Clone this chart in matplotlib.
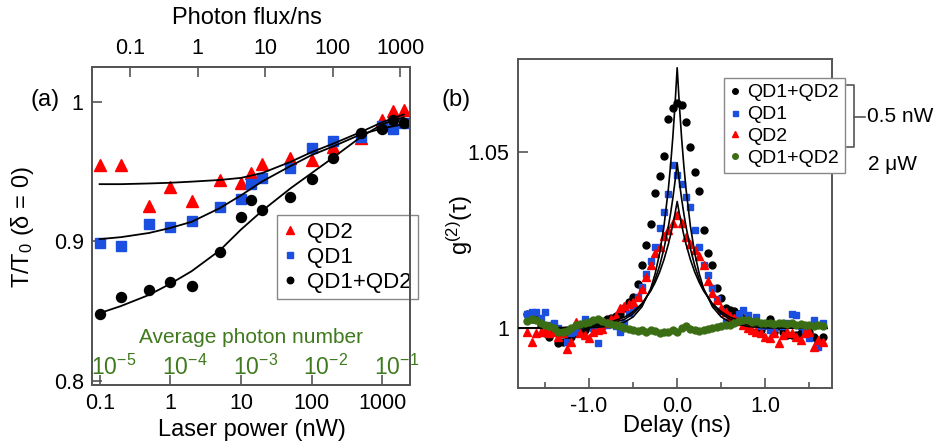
import matplotlib.pyplot as plt
from matplotlib.lines import Line2D

plt.rcParams['font.family'] = ['Liberation Sans', 'DejaVu Sans']
plt.rcParams['mathtext.fontset'] = 'custom'
plt.rcParams['mathtext.rm'] = 'Liberation Sans'
plt.rcParams['mathtext.it'] = 'Liberation Sans:italic'
plt.rcParams['mathtext.default'] = 'regular'

RED = '#ff0000'
BLUE = '#1a4fe0'
GREEN = '#3b6e14'
GREEN_TXT = '#3f7a1e'
AXC = '#555555'

# ---------------- panel (a): transmission vs laser power ----------------
power = [0.1, 0.2, 0.5, 1, 2, 5, 10, 14, 20, 50, 100, 200, 500, 1000, 1400, 2000]
trans_qd2 = [0.9547, 0.9547, 0.925, 0.9393, 0.9291, 0.944, 0.9417, 0.9488,
             0.9554, 0.960, 0.9583, 0.9673, 0.9738, 0.9873, 0.9934, 0.9944]
trans_qd1 = [0.8989, 0.897, 0.9127, 0.9103, 0.9146, 0.9243, 0.9303, 0.9412,
             0.9452, 0.9528, 0.9666, 0.9718, 0.9745, 0.983, 0.9804, 0.9845]
trans_both = [0.8478, 0.860, 0.8651, 0.871, 0.8682, 0.8922, 0.9173, 0.9294,
              0.9223, 0.9321, 0.9444, 0.9594, 0.9779, 0.9807, 0.9868, 0.9845]

fit_power = [0.1, 0.2, 0.5, 1, 2, 5, 10, 20, 50, 100, 200, 500, 1000, 2000]
fit_qd2 = [0.941, 0.941, 0.9415, 0.942, 0.9428, 0.944, 0.9455, 0.949,
           0.957, 0.964, 0.970, 0.9785, 0.9855, 0.991]
fit_qd1 = [0.9016, 0.903, 0.906, 0.9096, 0.914, 0.9238, 0.933, 0.943,
           0.954, 0.9619, 0.968, 0.9768, 0.981, 0.984]
fit_both = [0.8485, 0.8536, 0.8616, 0.8696, 0.8786, 0.8935, 0.9085, 0.922,
            0.938, 0.949, 0.960, 0.975, 0.984, 0.989]

power_ticks = [0.1, 1, 10, 100, 1000]
flux_ticks = [0.1, 1, 10, 100, 1000]
photon_number = [1e-5, 1e-4, 1e-3, 1e-2, 1e-1]
photon_labels = ['$10^{-5}$', '$10^{-4}$', '$10^{-3}$', '$10^{-2}$', '$10^{-1}$']
power_per_photon = 1e4   # nW corresponding to an average photon number of 1

# ---------------- panel (b): g2 vs delay ----------------
delay = [-1.70, -1.65, -1.60, -1.55, -1.50, -1.45, -1.40, -1.35, -1.30, -1.25,
         -1.20, -1.15, -1.10, -1.05, -1.00, -0.95, -0.90, -0.85, -0.80, -0.75,
         -0.70, -0.65, -0.60, -0.55, -0.50, -0.45, -0.40, -0.35, -0.30, -0.25,
         -0.20, -0.15, -0.10, -0.05, 0.00, 0.05, 0.10, 0.15, 0.20, 0.25,
         0.30, 0.35, 0.40, 0.45, 0.50, 0.55, 0.60, 0.65, 0.70, 0.75,
         0.80, 0.85, 0.90, 0.95, 1.00, 1.05, 1.10, 1.15, 1.20, 1.25,
         1.30, 1.35, 1.40, 1.45, 1.50, 1.55, 1.60, 1.65]
g2_both = [1.0040, 1.0025, 1.0030, 1.0010, 0.9985, 0.9975, 0.9990, 0.9957, 0.9960, 0.9980,
           0.9975, 0.9985, 0.9990, 0.9995, 1.0005, 1.0010, 1.0005, 1.0015, 1.0025, 1.0030,
           1.0035, 1.0041, 1.0058, 1.0075, 1.0090, 1.0125, 1.0180, 1.0235, 1.0295, 1.0385,
           1.0432, 1.0490, 1.0595, 1.0625, 1.0640, 1.0634, 1.0585, 1.0515, 1.0445, 1.0390,
           1.0280, 1.0215, 1.0180, 1.0115, 1.0085, 1.0057, 1.0052, 1.0050, 1.0040, 1.0030,
           1.0020, 1.0014, 0.9988, 0.9995, 1.0010, 1.0025, 0.9990, 1.0005, 0.9990, 0.9982,
           0.9980, 0.9980, 0.9985, 1.0000, 0.9990, 0.9975, 0.9960, 0.9975]
g2_qd1 = [1.0040, 1.0045, 1.0047, 1.0030, 1.0047, 1.0010, 1.0014, 1.0000, 0.9990, 0.9962,
          0.9985, 0.9990, 1.0010, 1.0026, 1.0015, 1.0000, 0.9957, 1.0005, 1.0010, 1.0015,
          1.0005, 0.9990, 1.0014, 1.0043, 1.0061, 1.0090, 1.0118, 1.0155, 1.0190, 1.0230,
          1.0285, 1.0330, 1.0380, 1.0465, 1.0435, 1.0410, 1.0374, 1.0345, 1.0280, 1.0230,
          1.0180, 1.0150, 1.0115, 1.0082, 1.0050, 1.0019, 1.0030, 1.0025, 1.0040, 1.0052,
          1.0038, 1.0020, 1.0033, 1.0005, 1.0010, 0.9995, 1.0000, 1.0010, 1.0005, 1.0015,
          1.0040, 1.0038, 1.0005, 0.9995, 0.9972, 1.0022, 0.9948, 1.0014]
g2_qd2 = [0.9988, 0.9960, 0.9985, 0.9990, 0.9995, 0.9985, 0.9990, 0.9975, 0.9985, 0.9940,
          0.9962, 1.0018, 0.9985, 0.9980, 0.9972, 0.9990, 0.9995, 0.9998, 1.0015, 1.0025,
          1.0035, 1.0057, 1.0062, 1.0068, 1.0075, 1.0088, 1.0112, 1.0145, 1.0180, 1.0215,
          1.0232, 1.0262, 1.0280, 1.0300, 1.0322, 1.0300, 1.0260, 1.0240, 1.0222, 1.0205,
          1.0180, 1.0135, 1.0100, 1.0080, 1.0057, 1.0045, 1.0035, 1.0028, 1.0020, 1.0010,
          1.0000, 0.9995, 0.9990, 0.9985, 0.9975, 0.9972, 0.9985, 0.9957, 0.9980, 0.9990,
          0.9985, 0.9975, 0.9967, 0.9985, 0.9990, 0.9948, 0.9967, 0.9962]
g2_high = [1.0020, 1.0025, 1.0022, 1.0015, 1.0010, 1.0005, 1.0000, 0.9990, 0.9988, 0.9992,
           1.0000, 1.0008, 1.0012, 1.0015, 1.0018, 1.0022, 1.0025, 1.0020, 1.0015, 1.0012,
           1.0008, 1.0005, 1.0000, 0.9998, 0.9995, 0.9992, 0.9995, 0.9990, 0.9995, 0.9992,
           0.9985, 0.9990, 0.9988, 0.9995, 0.9990, 1.0002, 1.0005, 0.9998, 0.9995, 0.9992,
           0.9995, 0.9998, 1.0000, 1.0003, 1.0005, 1.0010, 1.0008, 1.0015, 1.0020, 1.0024,
           1.0022, 1.0018, 1.0020, 1.0016, 1.0014, 1.0015, 1.0012, 1.0016, 1.0014, 1.0012,
           1.0014, 1.0010, 1.0012, 1.0008, 1.0010, 1.0006, 1.0008, 1.0005]

fit_delay = [-1.80, -1.30, -1.00, -0.80, -0.60, -0.50, -0.40, -0.30, -0.25, -0.20,
             -0.15, -0.10, -0.075, -0.05, -0.025, 0.00, 0.025, 0.05, 0.075, 0.10,
             0.15, 0.20, 0.25, 0.30, 0.40, 0.50, 0.60, 0.80, 1.00, 1.30, 1.70]
fit_g2_both = [1.0000, 1.0000, 1.0001, 1.0005, 1.0017, 1.0032, 1.0061, 1.0113, 1.0155, 1.0212,
               1.0290, 1.0396, 1.0463, 1.0541, 1.0633, 1.0740, 1.0633, 1.0541, 1.0463, 1.0396,
               1.0290, 1.0212, 1.0155, 1.0113, 1.0061, 1.0032, 1.0017, 1.0005, 1.0001, 1.0000, 1.0000]
fit_g2_qd1 = [1.0000, 1.0001, 1.0004, 1.0010, 1.0025, 1.0041, 1.0067, 1.0109, 1.0139, 1.0177,
              1.0226, 1.0289, 1.0326, 1.0368, 1.0416, 1.0470, 1.0416, 1.0368, 1.0326, 1.0289,
              1.0226, 1.0177, 1.0139, 1.0109, 1.0067, 1.0041, 1.0025, 1.0010, 1.0004, 1.0001, 1.0000]
fit_g2_qd2 = [1.0000, 1.0002, 1.0006, 1.0014, 1.0031, 1.0047, 1.0070, 1.0106, 1.0130, 1.0159,
              1.0195, 1.0239, 1.0265, 1.0294, 1.0325, 1.0360, 1.0325, 1.0294, 1.0265, 1.0239,
              1.0195, 1.0159, 1.0130, 1.0106, 1.0070, 1.0047, 1.0031, 1.0014, 1.0006, 1.0002, 1.0000]

W, H = 938, 448
fig = plt.figure(figsize=(W / 100, H / 100), dpi=100)


def style_axes(ax):
    for s in ax.spines.values():
        s.set_color(AXC)
        s.set_linewidth(1.4)
    ax.tick_params(which='major', direction='in', length=7, width=1.2,
                   color=AXC, labelsize=15.5, pad=6)
    ax.tick_params(which='minor', direction='in', length=4, width=1.2, color=AXC)


# ---- panel (a)
axa = fig.add_axes([92 / W, 63 / H, 318 / W, 318 / H])
style_axes(axa)
axa.set_xscale('log')
axa.set_xlim(0.078, 2450)
axa.set_ylim(0.797, 1.025)
axa.plot(fit_power, fit_qd2, color='black', lw=1.3, zorder=3)
axa.plot(fit_power, fit_qd1, color='black', lw=1.3, zorder=3)
axa.plot(fit_power, fit_both, color='black', lw=1.3, zorder=3)
axa.plot(power, trans_qd2, ls='none', marker='^', ms=8, color=RED, mec=RED, label='QD2', zorder=2)
axa.plot(power, trans_qd1, ls='none', marker='s', ms=7, color=BLUE, mec=BLUE, label='QD1', zorder=2)
axa.plot(power, trans_both, ls='none', marker='o', ms=7.2, color='black', label='QD1+QD2', zorder=2)
axa.set_xticks(power_ticks)
axa.set_xticklabels(['0.1', '1', '10', '100', '1000'])
axa.xaxis.set_minor_locator(plt.NullLocator())
axa.set_yticks([0.8, 0.9, 1.0])
axa.set_yticklabels(['0.8', '0.9', '1'])

axt = axa.twiny()
style_axes(axt)
axt.set_xscale('log')
axt.set_xlim(0.0272, 1396)
axt.set_xticks(flux_ticks)
axt.set_xticklabels(['0.1', '1', '10', '100', '1000'])
axt.xaxis.set_minor_locator(plt.NullLocator())

# average photon number scale (inside the plot)
for n, lab in zip(photon_number, photon_labels):
    axa.annotate(lab, xy=(n * power_per_photon, 0.033), xycoords=('data', 'axes fraction'),
                 xytext=(-6, 0), textcoords='offset points', ha='left', va='baseline',
                 fontsize=16.5, color=GREEN_TXT)
axa.text(0.5, 0.133, 'Average photon number', transform=axa.transAxes, ha='center',
         va='baseline', fontsize=15, color=GREEN_TXT)

leg_a = axa.legend(loc='upper left', bbox_to_anchor=(277 / W, 1 - 215 / H),
                   bbox_transform=fig.transFigure, borderaxespad=0, fontsize=16,
                   frameon=True, fancybox=False, framealpha=1, edgecolor='#888888',
                   markerscale=0.65, handlelength=0.6, handletextpad=0.45,
                   labelspacing=0.18, borderpad=0.3)
leg_a.get_frame().set_linewidth(1.0)
leg_a.set_zorder(5)

fig.text(247 / W, 1 - 18 / H, 'Photon flux/ns', ha='center', va='center', fontsize=17)
fig.text(252 / W, 1 - 430 / H, 'Laser power (nW)', ha='center', va='center', fontsize=17)
fig.text(22 / W, 1 - 227 / H, 'T/T$_0$ (δ = 0)', ha='center', va='center',
         rotation=90, fontsize=17)
fig.text(45 / W, 1 - 100 / H, '(a)', ha='center', va='center', fontsize=17)

# ---- panel (b)
axb = fig.add_axes([517.7 / W, 60.3 / H, 314.3 / W, 328.4 / H])
style_axes(axb)
axb.set_xlim(-1.81, 1.757)
axb.set_ylim(0.9831, 1.0764)
axb.plot(delay, g2_both, ls='none', marker='o', ms=5, color='black', label='QD1+QD2', zorder=2)
axb.plot(delay, g2_qd1, ls='none', marker='s', ms=4.5, color=BLUE, mec=BLUE, label='QD1', zorder=2)
axb.plot(delay, g2_qd2, ls='none', marker='^', ms=5.5, color=RED, mec=RED, label='QD2', zorder=2)
axb.plot(fit_delay, fit_g2_both, color='black', lw=1.2, zorder=3)
axb.plot(fit_delay, fit_g2_qd1, color='black', lw=1.2, zorder=3)
axb.plot(fit_delay, fit_g2_qd2, color='black', lw=1.2, zorder=3)
axb.plot(delay, g2_high, ls='none', marker='o', ms=5, color=GREEN, mec=GREEN, label='QD1+QD2', zorder=4)
axb.set_xticks([-1.0, 0.0, 1.0])
axb.set_xticklabels(['-1.0', '0.0', '1.0'])
axb.set_xticks([-1.5, -0.5, 0.5, 1.5], minor=True)
axb.set_yticks([1.0, 1.05])
axb.set_yticklabels(['1', '1.05'])

leg_b = axb.legend(loc='upper left', bbox_to_anchor=(724 / W, 1 - 78 / H),
                   bbox_transform=fig.transFigure, borderaxespad=0, fontsize=14,
                   frameon=True, fancybox=False, framealpha=1, edgecolor='#888888',
                   markerscale=0.8, handlelength=0.5, handletextpad=0.4,
                   labelspacing=0.22, borderpad=0.3)
leg_b.get_frame().set_linewidth(1.0)
leg_b.set_zorder(5)

# bracket grouping the 0.5 nW curves
bx = [847 / W, 854 / W, 854 / W, 847 / W]
by = [1 - 85 / H, 1 - 85 / H, 1 - 147 / H, 1 - 147 / H]
fig.add_artist(Line2D(bx, by, color=AXC, lw=1.2, transform=fig.transFigure))
fig.add_artist(Line2D([854 / W, 865 / W], [1 - 117 / H, 1 - 117 / H], color=AXC, lw=1.2,
                      transform=fig.transFigure))
fig.text(867 / W, 1 - 117 / H, '0.5 nW', ha='left', va='center', fontsize=15)
fig.text(868 / W, 1 - 165 / H, '2 μW', ha='left', va='center', fontsize=15)

fig.text(677 / W, 1 - 426 / H, 'Delay (ns)', ha='center', va='center', fontsize=17)
fig.text(460 / W, 1 - 225 / H, 'g$^{(2)}$(τ)', ha='center', va='center',
         rotation=90, fontsize=17)
fig.text(456 / W, 1 - 100 / H, '(b)', ha='center', va='center', fontsize=17)

fig.savefig('out.png', dpi=100)
